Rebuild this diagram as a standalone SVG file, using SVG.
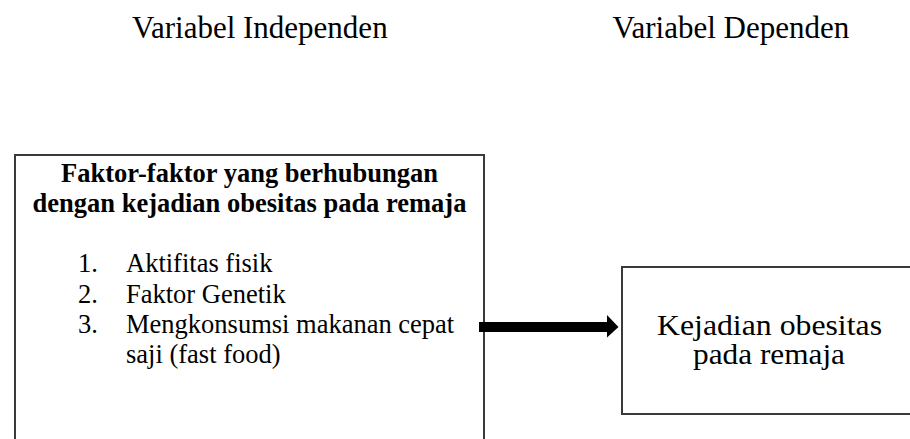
<svg xmlns="http://www.w3.org/2000/svg" width="910" height="439" viewBox="0 0 910 439">
<style>
.box{fill:#fff;stroke:#3a3a3a;stroke-width:2}
.t{font-family:"Liberation Serif","Times New Roman",serif;fill:#000}
.hd{font-size:31px}
.b{font-size:26.5px;font-weight:bold}
.r{font-size:26.5px}
.k{font-size:29px}
</style>
<rect width="910" height="439" fill="#fff"/>
<g id="header-independen"><text class="t hd" x="132" y="38">Variabel Independen</text></g>
<g id="header-dependen"><text class="t hd" x="612.5" y="38">Variabel Dependen</text></g>
<g id="node-faktor">
<rect class="box" x="15" y="155" width="469" height="300"/>
<text class="t b" x="249.5" y="182" text-anchor="middle">Faktor-faktor yang berhubungan</text>
<text class="t b" x="249.5" y="212" text-anchor="middle">dengan kejadian obesitas pada remaja</text>
<text class="t r" x="78" y="272">1.</text><text class="t r" x="126" y="272">Aktifitas fisik</text>
<text class="t r" x="78" y="303">2.</text><text class="t r" x="126" y="303">Faktor Genetik</text>
<text class="t r" x="78" y="333">3.</text><text class="t r" x="126" y="333">Mengkonsumsi makanan cepat</text>
<text class="t r" x="126" y="363">saji (fast food)</text>
</g>
<g id="node-kejadian">
<rect class="box" x="622" y="267" width="300" height="147"/>
<text class="t k" x="657" y="335" textLength="225" lengthAdjust="spacingAndGlyphs">Kejadian obesitas</text>
<text class="t k" x="693" y="364" textLength="152" lengthAdjust="spacingAndGlyphs">pada remaja</text>
</g>
<g id="connectors">
<path d="M479 322 H607 V315 L618.5 327 L607 337.5 V332 H479 Z" fill="#000"/>
</g>
</svg>
